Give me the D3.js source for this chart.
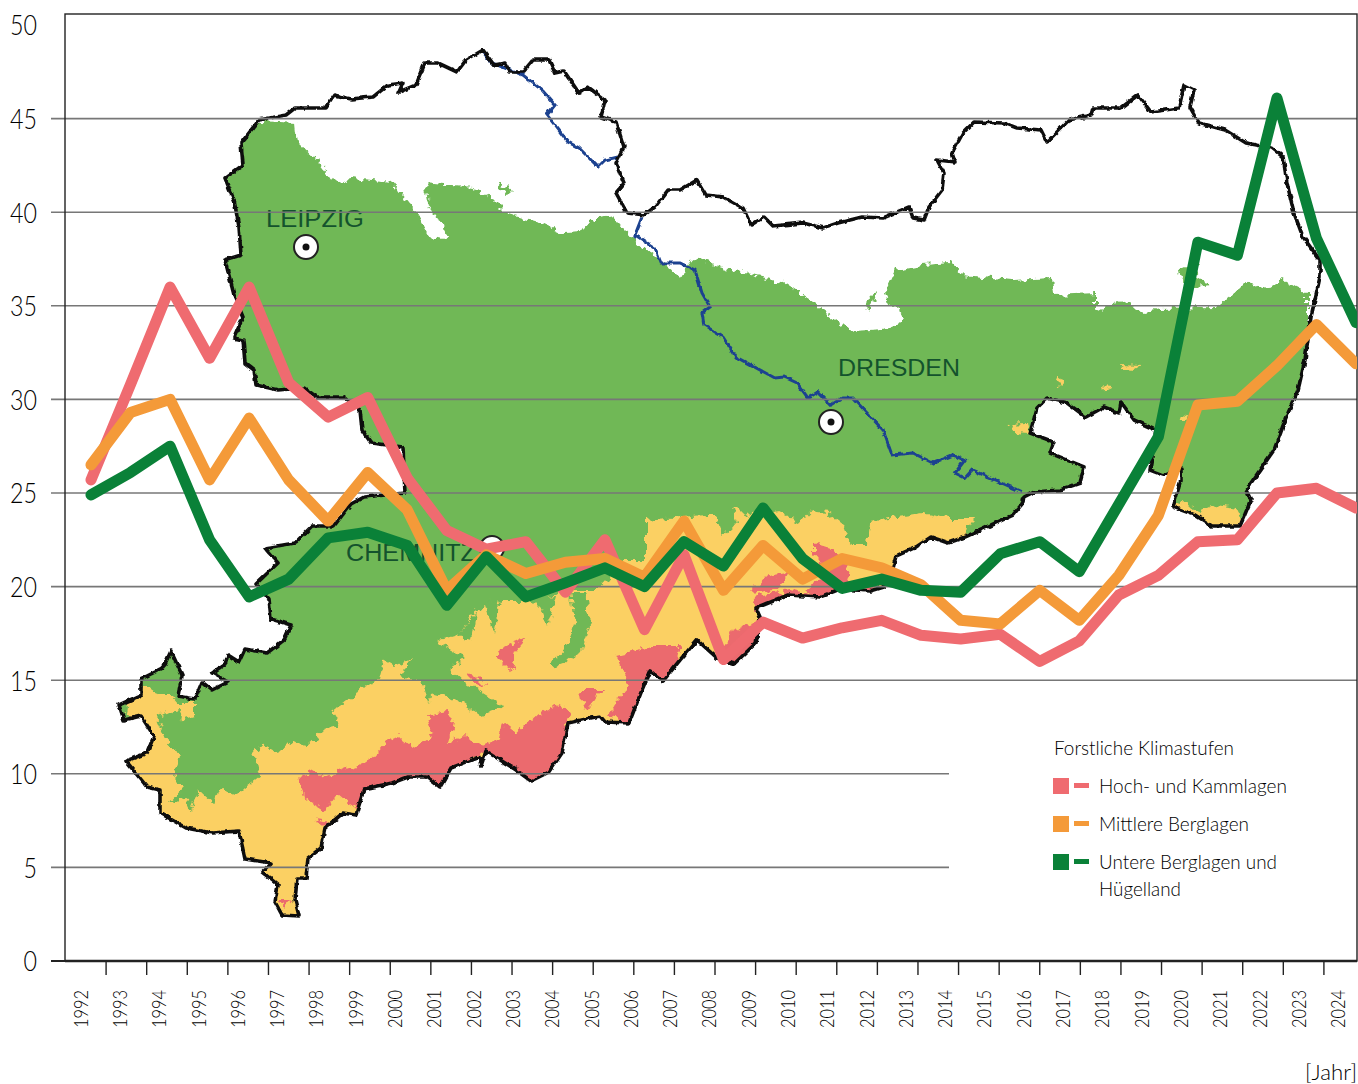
<!DOCTYPE html>
<html>
<head>
<meta charset="utf-8">
<script src="https://cdn.jsdelivr.net/npm/d3@7"></script>
<style>
  html, body { margin: 0; padding: 0; background: #fff; }
  svg { display: block; }
  text { font-family: Lato, "Open Sans", sans-serif; font-weight: 300; fill: #000; }
  .place { font-family: "Liberation Sans", sans-serif; font-weight: 400; fill: #14532d; }
</style>
</head>
<body>
<div id="chart"></div>
<script>
// chart data
const years = d3.range(1992, 2025);
const hochlagen = [25.7, 30.8, 36, 32.2, 36, 30.9, 29.05, 30.1, 25.8, 23, 22, 22.4, 19.7, 22.5, 17.7, 21.7, 16.1, 18.1, 17.25, 17.8, 18.2, 17.4, 17.2, 17.45, 16, 17.1, 19.55, 20.6, 22.4, 22.5, 25, 25.25, 24.2];
const mittlere = [26.5, 29.3, 30, 25.7, 29, 25.7, 23.5, 26.1, 24.1, 19.8, 21.7, 20.7, 21.3, 21.5, 20.5, 23.5, 19.8, 22.2, 20.4, 21.5, 21, 20.1, 18.2, 18, 19.8, 18.2, 20.6, 23.8, 29.7, 29.9, 31.8, 34, 31.9];
const untere = [24.9, 26.1, 27.5, 22.5, 19.45, 20.4, 22.6, 22.9, 22.2, 19, 21.6, 19.45, 20.2, 21, 20, 22.4, 21.1, 24.2, 21.5, 19.9, 20.4, 19.8, 19.7, 21.75, 22.4, 20.8, 24.4, 28, 38.4, 37.7, 46.1, 38.6, 34.1];
const yTicks = [0, 5, 10, 15, 20, 25, 30, 35, 40, 45, 50];
const shortGrid = [5, 10];
const legendTitle = "Forstliche Klimastufen";
const legendLabels = ["Hoch- und Kammlagen", "Mittlere Berglagen", "Untere Berglagen und"];

// background map of Saxony, traced in page pixels
const outline = [[259,120],[286,115],[295,108],[325,108],[334,95],[351,99],[373,97],[388,85],[403,83],[399,92],[416,85],[425,63],[438,63],[457,72],[466,60],[483,50],[494,65],[505,63],[510,72],[523,72],[533,60],[549,60],[555,73],[564,71],[579,93],[588,87],[605,100],[601,117],[616,122],[624,147],[616,163],[624,183],[616,193],[627,213],[644,215],[655,207],[668,190],[680,190],[697,180],[706,195],[723,197],[743,208],[751,225],[764,217],[773,226],[803,223],[823,228],[838,223],[862,217],[883,218],[909,207],[913,218],[924,220],[929,207],[942,190],[944,173],[937,160],[955,162],[952,153],[963,133],[974,122],[1004,123],[1017,128],[1041,130],[1047,142],[1069,120],[1091,115],[1093,108],[1121,108],[1138,95],[1151,112],[1179,108],[1184,85],[1194,90],[1190,107],[1199,123],[1225,130],[1246,143],[1272,148],[1283,157],[1287,183],[1294,213],[1303,237],[1320,260],[1320,277],[1311,317],[1305,360],[1298,390],[1285,420],[1274,450],[1246,490],[1251,500],[1240,526],[1212,526],[1195,515],[1173,507],[1181,480],[1181,468],[1163,475],[1150,470],[1156,430],[1134,420],[1121,402],[1119,413],[1104,407],[1086,417],[1067,403],[1047,398],[1037,408],[1030,433],[1054,442],[1050,453],[1084,467],[1080,483],[1060,490],[1034,492],[1024,497],[1022,504],[1013,515],[965,537],[948,543],[931,537],[916,547],[896,556],[892,571],[883,587],[870,591],[840,589],[820,597],[788,595],[756,608],[760,617],[756,643],[734,664],[717,658],[697,640],[680,660],[663,681],[650,671],[642,690],[629,723],[605,722],[600,716],[568,723],[562,753],[549,772],[531,781],[516,770],[486,751],[481,766],[479,757],[451,768],[440,787],[427,777],[408,777],[392,783],[364,789],[356,815],[343,813],[325,828],[321,848],[308,858],[306,878],[297,878],[295,900],[299,916],[282,915],[275,902],[278,885],[262,872],[271,863],[245,859],[239,831],[212,833],[186,828],[160,813],[160,790],[147,787],[126,761],[147,753],[154,736],[141,716],[124,720],[119,705],[141,695],[141,679],[163,668],[171,651],[176,662],[182,675],[178,696],[195,699],[202,682],[212,690],[228,682],[212,673],[225,664],[228,655],[239,662],[245,649],[267,653],[284,640],[291,625],[271,619],[269,599],[256,584],[278,563],[265,548],[295,543],[312,526],[334,526],[351,504],[364,497],[405,493],[403,447],[371,443],[362,430],[360,410],[343,397],[317,397],[304,388],[278,390],[256,385],[254,370],[245,363],[243,340],[234,338],[243,317],[234,295],[225,260],[241,255],[239,227],[234,200],[225,178],[243,165],[241,143]];
const greenArea = [[240,120],[297,123],[299,143],[317,160],[334,182],[351,178],[392,182],[416,213],[429,237],[447,239],[444,227],[429,207],[425,187],[434,183],[473,187],[494,200],[507,213],[542,223],[564,233],[581,232],[590,220],[614,217],[633,240],[663,263],[680,277],[695,258],[723,268],[753,275],[784,283],[810,300],[836,320],[853,332],[883,330],[903,322],[900,310],[888,305],[885,293],[896,270],[922,265],[952,263],[963,275],[1013,280],[1052,278],[1054,295],[1095,293],[1095,312],[1117,300],[1143,312],[1160,308],[1216,307],[1238,290],[1246,282],[1266,290],[1283,280],[1307,293],[1307,320],[1340,320],[1340,600],[1000,600],[100,950],[100,640],[200,120]];
const greenSpots = [
  [[498,184],[505,186],[513,193],[505,194]],
  [[1178,270],[1200,265],[1195,276],[1210,285],[1190,288],[1180,280]],
  [[866,312],[868,298],[876,292],[872,304]]
];
const yellowArea = [[130,688],[147,688],[160,697],[173,697],[178,703],[195,703],[195,716],[182,720],[180,710],[156,716],[165,738],[180,757],[173,776],[184,787],[169,803],[186,798],[191,809],[199,790],[215,805],[219,789],[234,796],[260,776],[254,753],[262,744],[278,753],[288,742],[306,746],[325,729],[340,725],[332,712],[360,690],[379,679],[384,660],[395,666],[412,658],[399,677],[421,681],[427,703],[434,694],[460,701],[481,716],[505,707],[464,682],[449,668],[466,658],[436,641],[460,634],[473,612],[492,601],[507,601],[533,601],[572,589],[585,589],[598,589],[624,560],[646,560],[646,520],[680,517],[706,515],[715,515],[723,537],[736,522],[732,507],[751,515],[777,511],[801,522],[810,511],[827,513],[844,526],[851,545],[868,545],[870,522],[896,517],[922,513],[948,519],[974,519],[965,534],[1000,560],[1000,800],[700,950],[100,950]];
const yellowSpots = [
  [[1160,498],[1190,505],[1200,512],[1216,505],[1236,508],[1250,535],[1200,540]],
  [[1010,424],[1028,423],[1030,434],[1013,433]],
  [[1058,375],[1063,383],[1061,388],[1056,380]],
  [[1120,364],[1142,365],[1135,369],[1122,368]],
  [[1102,385],[1110,386],[1108,390],[1103,390]],
  [[1180,414],[1188,415],[1186,420],[1182,420]]
];
// green valleys cutting into the yellow belt
const greenFingers = [
  [[570,592],[586,592],[590,625],[582,650],[556,668],[550,664],[568,645],[574,625]],
  [[530,598],[556,596],[548,626],[542,610]],
  [[484,602],[500,600],[494,632]],
  [[458,636],[476,612],[472,640]]
];
const redSpots = [
  [[299,776],[312,770],[325,777],[347,768],[369,761],[386,742],[399,736],[412,748],[434,735],[427,716],[447,712],[453,723],[447,746],[464,735],[481,746],[499,738],[503,722],[516,733],[538,714],[559,705],[572,712],[564,723],[575,770],[538,795],[486,753],[451,768],[440,795],[408,785],[364,795],[356,809],[338,794],[325,811],[304,798]],
  [[497,651],[529,636],[515,652],[512,671],[497,658]],
  [[466,673],[475,675],[486,686],[475,684]],
  [[581,690],[603,690],[585,712]],
  [[616,656],[637,651],[650,645],[680,645],[676,664],[700,670],[700,690],[640,730],[607,716],[629,686]],
  [[732,630],[760,619],[770,640],[736,668],[723,656]],
  [[751,597],[790,590],[820,597],[795,602],[755,610]],
  [[764,578],[788,574],[779,589],[751,593]],
  [[814,543],[831,548],[849,571],[846,582],[879,586],[884,595],[840,595],[818,600],[805,589],[827,574],[814,556]],
  [[290,900],[283,908],[278,900]],
  [[314,820],[336,824],[325,828]]
];
const riverOne = [[483,52],[492,63],[510,70],[523,75],[542,90],[555,105],[547,115],[568,142],[579,148],[598,167],[605,160],[618,157]];
const riverTwo = [[642,217],[635,235],[655,248],[661,263],[680,263],[695,270],[702,293],[710,307],[702,313],[704,325],[723,337],[736,357],[775,378],[784,377],[797,383],[808,398],[818,392],[831,405],[842,398],[853,398],[883,430],[892,455],[913,453],[933,463],[952,455],[965,460],[955,473],[965,478],[972,470],[1022,492]];
const cities = [
  { name: "LEIPZIG", lx: 266, ly: 227, w: 98, cx: 306, cy: 247 },
  { name: "DRESDEN", lx: 838, ly: 376, w: 122, cx: 831, cy: 422 },
  { name: "CHEMNITZ", lx: 346, ly: 561, w: 130, cx: 492, cy: 548 }
];

const width = 1358, height = 1084;
const colors = { red: "#ef6b70", orange: "#f49a39", green: "#0a8138" };

const svg = d3.select("#chart").append("svg")
  .attr("width", width)
  .attr("height", height);

// scales: lines, rotated labels and tick marks all sit on slightly different grids in the original
const x = d3.scalePoint().domain(years).range([91, 1356]);
const xLabels = d3.scalePoint().domain(years).range([80.5, 1338]);
const xTicks = d3.scaleLinear().domain([0, 32]).range([65, 1364]);
const y = d3.scaleLinear().domain([0, 50]).range([961, 25]);

const defs = svg.append("defs");
const poly = d3.line().curve(d3.curveLinearClosed);
const open = d3.line();
defs.append("clipPath").attr("id", "saxony").append("path").attr("d", poly(outline));
defs.append("clipPath").attr("id", "plot").append("rect")
  .attr("x", 65).attr("y", 14).attr("width", 1292).attr("height", 947);

// rough, slightly soft edges for the traced map shapes
function addRough(id, freq, scale, blur) {
  const f = defs.append("filter").attr("id", id)
    .attr("filterUnits", "userSpaceOnUse")
    .attr("x", 0).attr("y", 0).attr("width", width).attr("height", height);
  f.append("feTurbulence")
    .attr("type", "fractalNoise").attr("baseFrequency", freq).attr("numOctaves", 2).attr("seed", 4).attr("result", "n");
  f.append("feDisplacementMap")
    .attr("in", "SourceGraphic").attr("in2", "n").attr("scale", scale)
    .attr("xChannelSelector", "R").attr("yChannelSelector", "G").attr("result", "d");
  f.append("feGaussianBlur").attr("in", "d").attr("stdDeviation", blur);
}
addRough("roughFill", 0.14, 11, 0.5);
addRough("roughLine", 0.16, 4, 0.45);

const fills = svg.append("g").attr("clip-path", "url(#saxony)")
  .append("g").attr("filter", "url(#roughFill)");
fills.append("path").attr("d", poly(greenArea)).attr("fill", "#6fb856");
fills.selectAll(".gs").data(greenSpots).enter().append("path").attr("d", poly).attr("fill", "#6fb856");
fills.append("path").attr("d", poly(yellowArea)).attr("fill", "#fbd063");
fills.selectAll(".ys").data(yellowSpots).enter().append("path").attr("d", poly).attr("fill", "#fbd063");
fills.selectAll(".gf").data(greenFingers).enter().append("path").attr("d", poly).attr("fill", "#6fb856");
fills.selectAll(".rs").data(redSpots).enter().append("path").attr("d", poly).attr("fill", "#eb6a6e");

const map = svg.append("g").attr("filter", "url(#roughLine)");
map.selectAll(".river").data([riverOne, riverTwo]).enter().append("path")
  .attr("d", open)
  .attr("fill", "none")
  .attr("stroke", "#1f4390")
  .attr("stroke-width", 3);
map.append("path")
  .attr("d", poly(outline))
  .attr("fill", "none")
  .attr("stroke", "#111")
  .attr("stroke-width", 3.6)
  .attr("stroke-linejoin", "round");

// city names and markers
svg.selectAll(".place").data(cities).enter().append("text")
  .attr("class", "place")
  .attr("x", d => d.lx)
  .attr("y", d => d.ly)
  .attr("font-size", 23)
  .attr("textLength", d => d.w)
  .attr("lengthAdjust", "spacingAndGlyphs")
  .text(d => d.name);
const marker = svg.selectAll(".marker").data(cities).enter().append("g")
  .attr("transform", d => `translate(${d.cx},${d.cy})`);
marker.append("circle").attr("r", 12).attr("fill", "#fff").attr("stroke", "#222").attr("stroke-width", 2);
marker.append("circle").attr("r", 3.5).attr("fill", "#111");

// gridlines
svg.append("g").selectAll("line").data(yTicks.filter(d => d > 0 && d < 50)).enter().append("line")
  .attr("x1", 51)
  .attr("x2", d => shortGrid.includes(d) ? 949 : 1357)
  .attr("y1", d => y(d))
  .attr("y2", d => y(d))
  .attr("stroke", "#777")
  .attr("stroke-width", 1.6);

// frame
svg.append("rect")
  .attr("x", 65).attr("y", 14).attr("width", 1292).attr("height", 947)
  .attr("fill", "none")
  .attr("stroke", "#222")
  .attr("stroke-width", 1.4);

// series lines
const line = d3.line().x((d, i) => x(years[i])).y(d => y(d));
svg.append("g").attr("clip-path", "url(#plot)")
  .selectAll("path")
  .data([[hochlagen, colors.red], [mittlere, colors.orange], [untere, colors.green]])
  .enter().append("path")
  .attr("d", d => line(d[0]))
  .attr("fill", "none")
  .attr("stroke", d => d[1])
  .attr("stroke-width", 11)
  .attr("stroke-linejoin", "round")
  .attr("stroke-linecap", "round");

// y axis
const yAxis = svg.append("g").attr("transform", "translate(51,0)")
  .call(d3.axisLeft(y).tickValues(yTicks).tickSize(0).tickPadding(14));
yAxis.select(".domain").remove();
yAxis.selectAll("text")
  .attr("font-size", 28)
  .attr("dy", "0.35em")
  .attr("textLength", d => d < 10 ? 13.5 : 27)
  .attr("lengthAdjust", "spacingAndGlyphs");
svg.append("line").attr("x1", 51).attr("x2", 65).attr("y1", y(0)).attr("y2", y(0)).attr("stroke", "#222").attr("stroke-width", 2);
svg.append("line").attr("x1", 65).attr("x2", 1357).attr("y1", y(0)).attr("y2", y(0)).attr("stroke", "#222").attr("stroke-width", 2.4);

// x axis: tick marks
const tickAxis = svg.append("g").attr("transform", "translate(0,961)")
  .call(d3.axisBottom(xTicks).tickValues(d3.range(1, 32)).tickSize(14).tickFormat(""));
tickAxis.select(".domain").remove();
tickAxis.selectAll("line").attr("stroke", "#222").attr("stroke-width", 1.4);

// x axis: rotated year labels
const labelAxis = svg.append("g").attr("transform", "translate(0,990)")
  .call(d3.axisBottom(xLabels).tickSize(0).tickPadding(0).tickFormat(d => String(d)));
labelAxis.select(".domain").remove();
labelAxis.selectAll("text")
  .attr("transform", "rotate(-90)")
  .attr("x", -38)
  .attr("y", 0)
  .attr("dy", "0.35em")
  .attr("text-anchor", "start")
  .attr("font-size", 19)
  .attr("textLength", 38)
  .attr("lengthAdjust", "spacingAndGlyphs");

svg.append("text")
  .attr("x", 1305).attr("y", 1080)
  .attr("font-size", 22)
  .attr("textLength", 52)
  .attr("lengthAdjust", "spacingAndGlyphs")
  .text("[Jahr]");

// legend
svg.append("text")
  .attr("x", 1054).attr("y", 755)
  .attr("font-size", 20)
  .attr("textLength", 180)
  .attr("lengthAdjust", "spacingAndGlyphs")
  .text(legendTitle);
const legendWidths = [188, 150, 178];
const legendRow = d3.scaleLinear().domain([0, 1]).range([786, 824]);
const legend = svg.selectAll(".legend")
  .data(legendLabels.map((d, i) => ({ label: d, i, color: [colors.red, colors.orange, colors.green][i] })))
  .enter().append("g")
  .attr("transform", d => `translate(0,${legendRow(d.i)})`);
legend.append("rect").attr("x", 1053).attr("y", -8).attr("width", 16).attr("height", 16).attr("fill", d => d.color);
legend.append("rect").attr("x", 1074).attr("y", -3).attr("width", 15).attr("height", 5).attr("fill", d => d.color);
legend.append("text")
  .attr("x", 1099).attr("y", 7)
  .attr("font-size", 20)
  .attr("textLength", d => legendWidths[d.i])
  .attr("lengthAdjust", "spacingAndGlyphs")
  .text(d => d.label);
svg.append("text")
  .attr("x", 1099).attr("y", 896)
  .attr("font-size", 20)
  .attr("textLength", 82)
  .attr("lengthAdjust", "spacingAndGlyphs")
  .text("Hügelland");
</script>
</body>
</html>
